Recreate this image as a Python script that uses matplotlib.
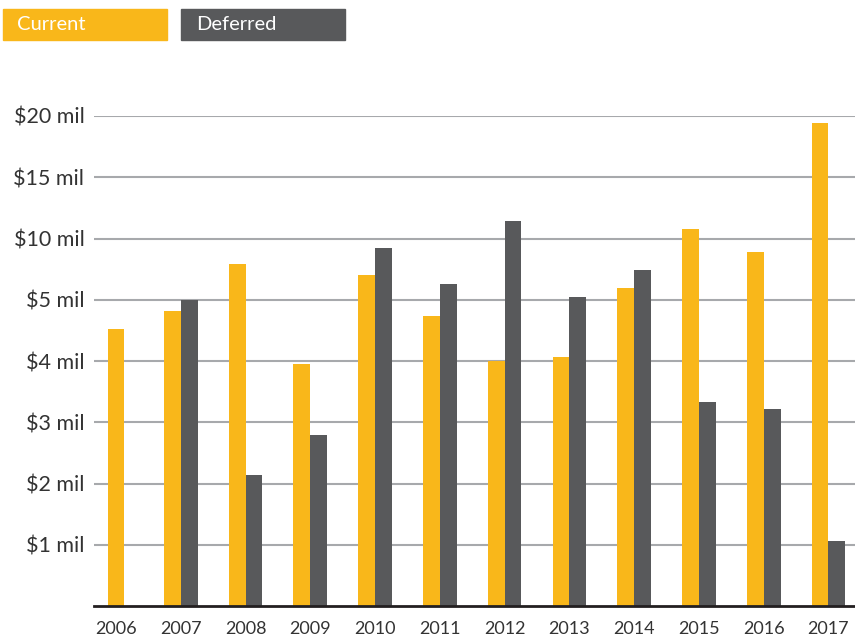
import matplotlib.pyplot as plt
from matplotlib.patches import Rectangle
import numpy as np

plt.rcParams['font.family'] = ['Lato', 'DejaVu Sans']

# values in $ millions
years = ['2006', '2007', '2008', '2009', '2010', '2011',
         '2012', '2013', '2014', '2015', '2016', '2017']
current = [4.52, 4.82, 7.9, 3.95, 7.0, 4.73, 4.0, 4.07, 5.96, 10.8, 8.9, 19.4]
deferred = [None, 5.0, 2.14, 2.79, 9.2, 6.3, 11.4, 5.2, 7.4, 3.33, 3.22, 1.06]

tick_vals = [1, 2, 3, 4, 5, 10, 15, 20]
tick_labels = ['$1 mil', '$2 mil', '$3 mil', '$4 mil',
               '$5 mil', '$10 mil', '$15 mil', '$20 mil']

# the axis is broken: equal steps for 0-5 by 1, then 5-20 by 5
scale_vals = [0, 1, 2, 3, 4, 5, 10, 15, 20]
scale_pos = [0, 1, 2, 3, 4, 5, 6, 7, 8]


def fwd(v):
    return np.interp(v, scale_vals, scale_pos)


def inv(p):
    return np.interp(p, scale_pos, scale_vals)


c_cur = '#F9B71A'
c_def = '#58595B'

fig = plt.figure(figsize=(8.55, 6.44), dpi=100)
ax = fig.add_axes([94 / 855, 38 / 644, 1 - 94 / 855, 490 / 644])
ax.set_yscale('function', functions=(fwd, inv))

w = 0.26
x = np.arange(len(years))
for i in range(len(years)):
    if deferred[i] is None:
        ax.bar(x[i], current[i], w, color=c_cur, zorder=3)
    else:
        ax.bar(x[i] - w / 2, current[i], w, color=c_cur, zorder=3)
        ax.bar(x[i] + w / 2, deferred[i], w, color=c_def, zorder=3)

ax.set_ylim(0, 20)
ax.set_xlim(-0.34, 11.41)
ax.set_yticks(tick_vals)
ax.set_yticklabels(tick_labels, fontsize=15.5, color='#333333')
ax.set_xticks(x)
ax.set_xticklabels(years, fontsize=13, color='#333333')
ax.tick_params(axis='both', length=0)
ax.tick_params(axis='y', pad=7)
ax.tick_params(axis='x', pad=11)
ax.grid(axis='y', color='#A7A9AC', linewidth=1.5, zorder=1)
for s in ['top', 'right', 'left']:
    ax.spines[s].set_visible(False)
ax.spines['bottom'].set_color('#231F20')
ax.spines['bottom'].set_linewidth(2)
ax.spines['bottom'].set_zorder(4)

# legend boxes at top
fig.patches.append(Rectangle((3 / 855, 604 / 644), 164 / 855, 31 / 644,
                             transform=fig.transFigure, color=c_cur))
fig.patches.append(Rectangle((181 / 855, 604 / 644), 164 / 855, 31 / 644,
                             transform=fig.transFigure, color=c_def))
fig.text(17 / 855, 619.5 / 644, 'Current', color='white', fontsize=14.5,
         va='center', ha='left')
fig.text(196 / 855, 619.5 / 644, 'Deferred', color='white', fontsize=14.5,
         va='center', ha='left')

fig.savefig('out.png', dpi=100)
